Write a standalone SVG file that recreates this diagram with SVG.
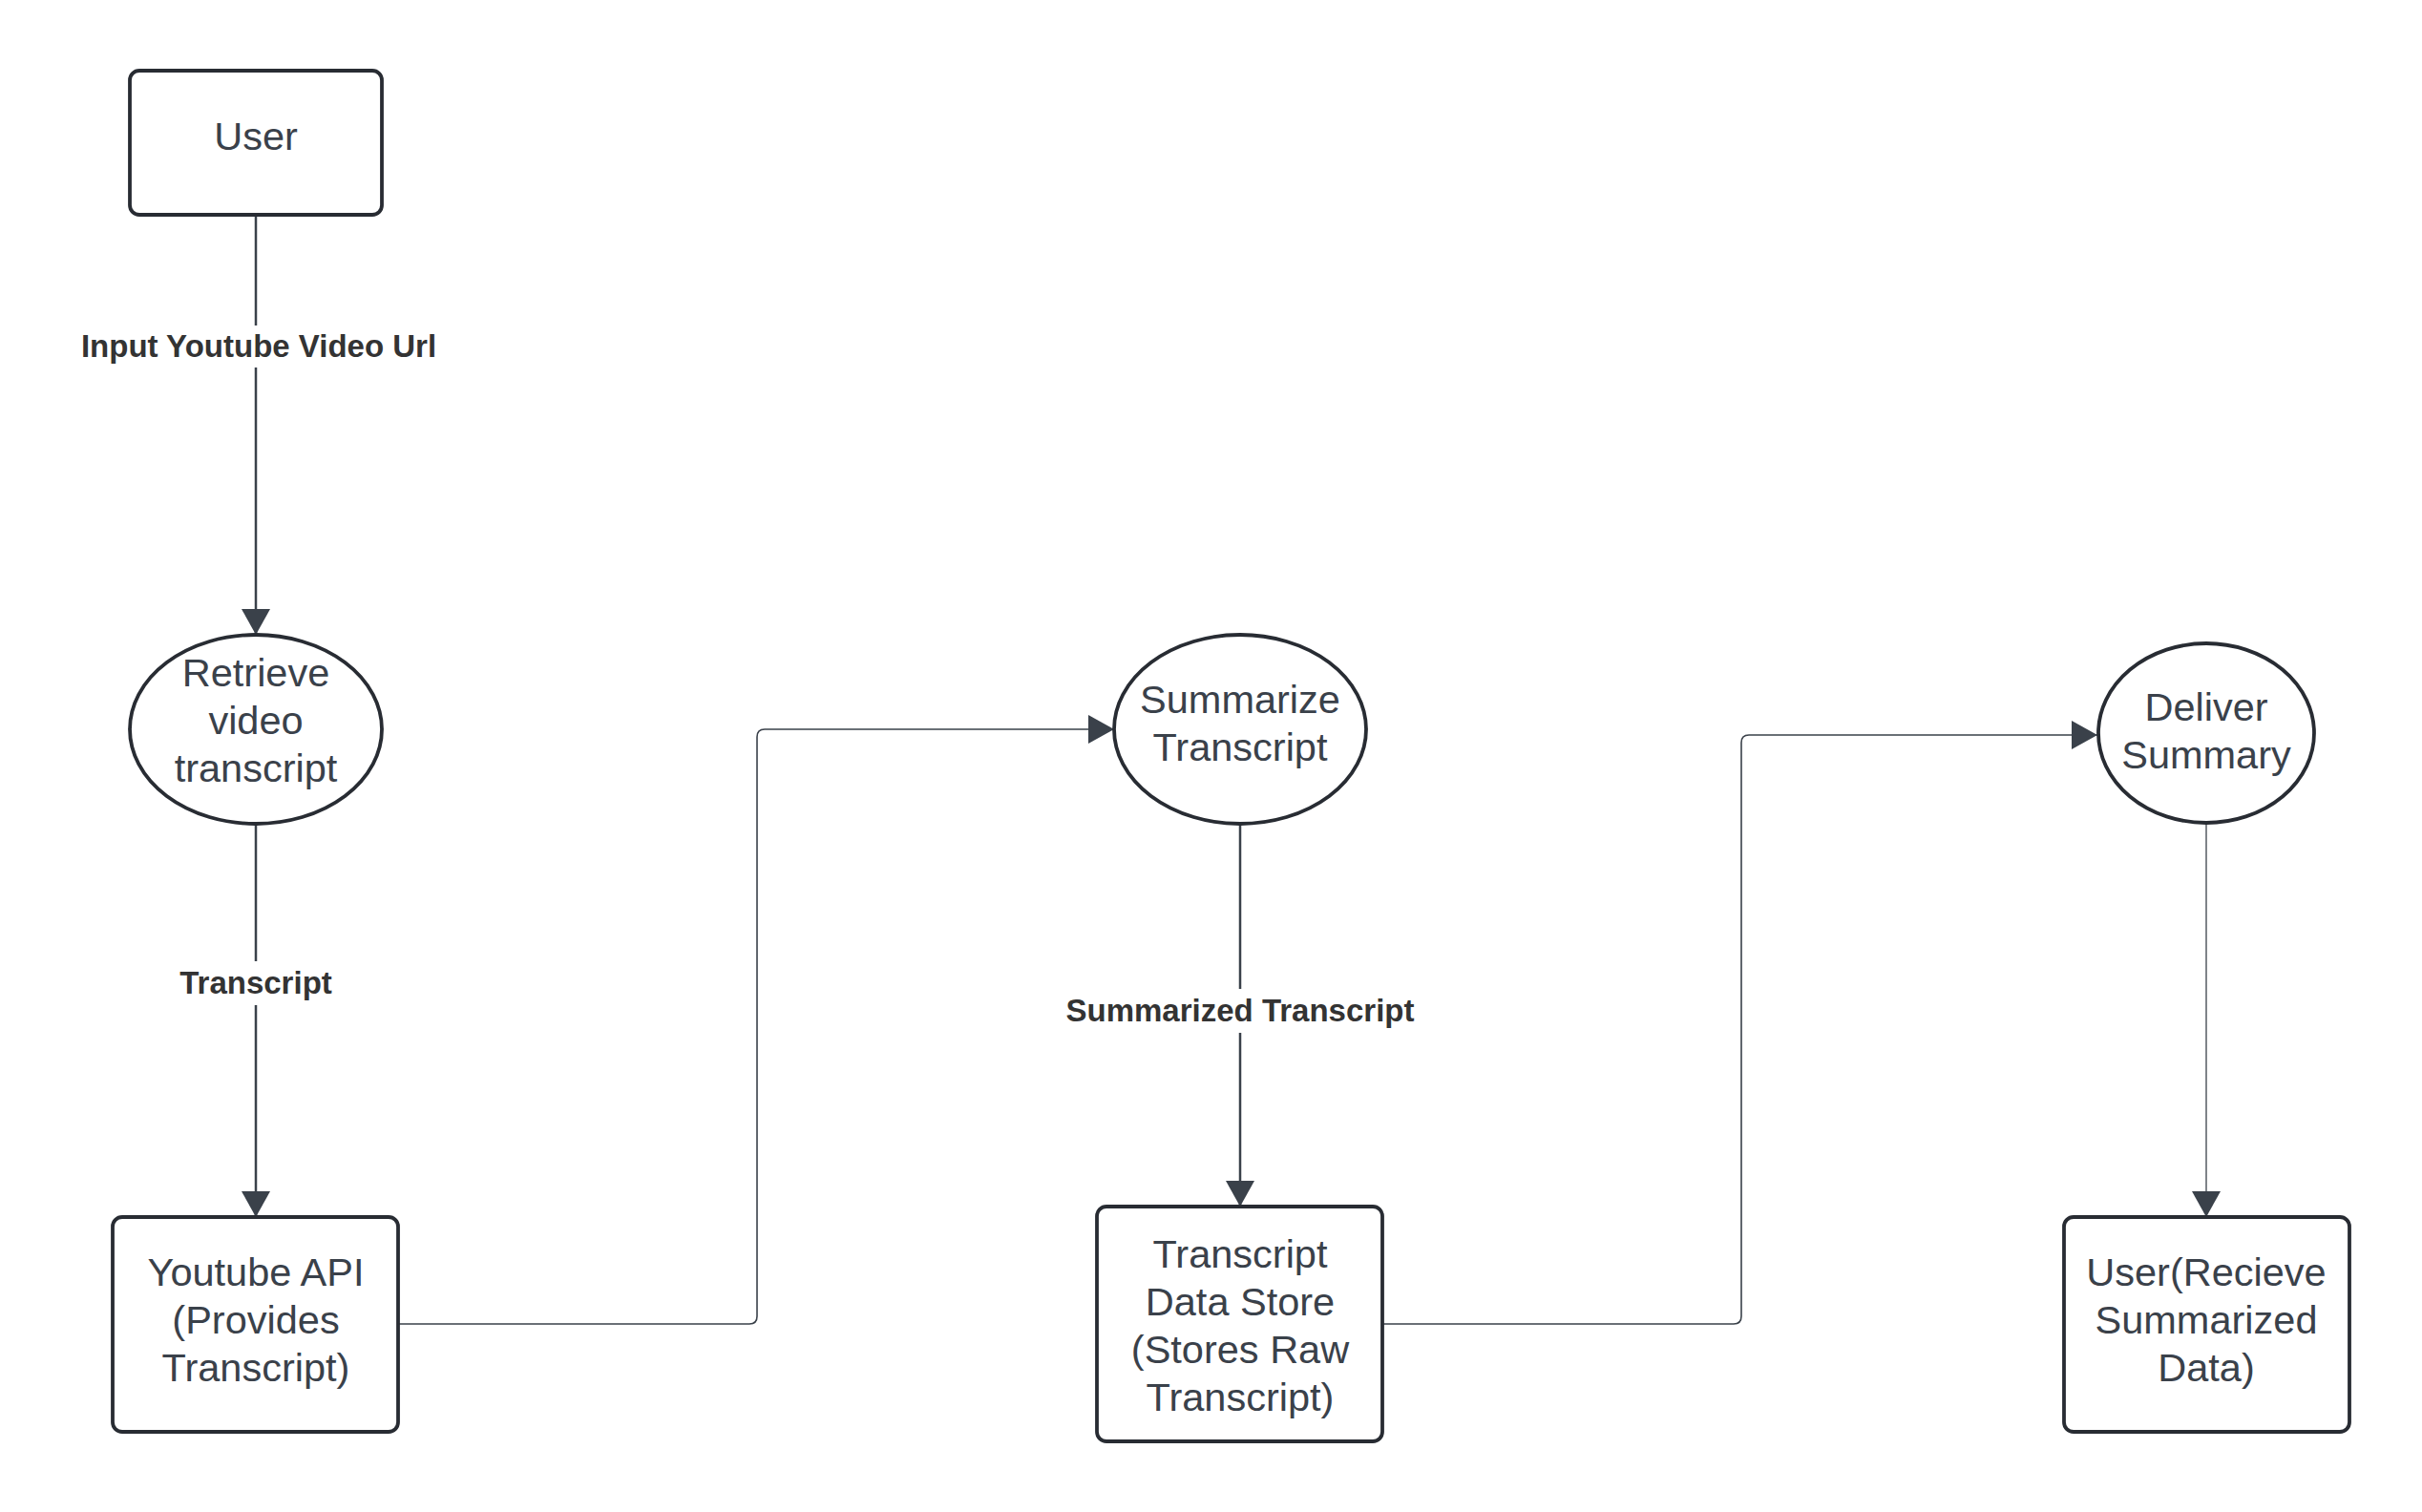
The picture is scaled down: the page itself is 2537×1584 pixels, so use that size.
<svg xmlns="http://www.w3.org/2000/svg" width="2537" height="1584" viewBox="0 0 2537 1584">
  <style>
    .box { fill: #ffffff; stroke: #282c33; stroke-width: 3.8; }
    .txt { font-family: "Liberation Sans", Arial, sans-serif; font-size: 41.5px; fill: #3a414a; text-anchor: middle; }
    .lbl { font-family: "Liberation Sans", Arial, sans-serif; font-size: 33px; font-weight: bold; fill: #333333; text-anchor: middle; }
    .conn { fill: none; stroke: #3a414a; }
    .thick { stroke-width: 2.5; }
    .thin { stroke-width: 1.6; }
    .lblbg { fill: #ffffff; }
  </style>
  <defs>
    <marker id="arrow" markerUnits="userSpaceOnUse" markerWidth="27" markerHeight="30" refX="27" refY="15" orient="auto">
      <path d="M0,0 L27,15 L0,30 z" fill="#3a414a"/>
    </marker>
  </defs>
  <rect width="2537" height="1584" fill="#ffffff"/>

  <g id="connectors">
    <path class="conn thick" d="M268,225 V665" marker-end="url(#arrow)"/>
    <rect class="lblbg" x="80" y="341" width="380" height="44"/>
    <text class="lbl" x="271" y="374">Input Youtube Video Url</text>

    <path class="conn thick" d="M268,862 V1275" marker-end="url(#arrow)"/>
    <rect class="lblbg" x="180" y="1007" width="176" height="46"/>
    <text class="lbl" x="268" y="1041">Transcript</text>

    <path class="conn thin" d="M417,1387 H785 Q793,1387 793,1379 V772 Q793,764 801,764 H1167" marker-end="url(#arrow)"/>

    <path class="conn thick" d="M1299,862 V1264" marker-end="url(#arrow)"/>
    <rect class="lblbg" x="1110" y="1036" width="378" height="46"/>
    <text class="lbl" x="1299" y="1070">Summarized Transcript</text>

    <path class="conn thin" d="M1448,1387 H1816 Q1824,1387 1824,1379 V778 Q1824,770 1832,770 H2197" marker-end="url(#arrow)"/>

    <path class="conn" stroke-width="1.3" d="M2311,862 V1275" marker-end="url(#arrow)"/>
  </g>

  <g id="user">
    <rect class="box" x="136" y="74" width="264" height="151" rx="10"/>
    <text class="txt" x="268" y="157">User</text>
  </g>

  <g id="retrieve">
    <ellipse class="box" cx="268" cy="764" rx="132" ry="99"/>
    <text class="txt" x="268" y="719">Retrieve</text>
    <text class="txt" x="268" y="769">video</text>
    <text class="txt" x="268" y="819">transcript</text>
  </g>

  <g id="youtube-api">
    <rect class="box" x="118" y="1275" width="299" height="225" rx="10"/>
    <text class="txt" x="268" y="1347">Youtube API</text>
    <text class="txt" x="268" y="1397">(Provides</text>
    <text class="txt" x="268" y="1447">Transcript)</text>
  </g>

  <g id="summarize">
    <ellipse class="box" cx="1299" cy="764" rx="132" ry="99"/>
    <text class="txt" x="1299" y="747">Summarize</text>
    <text class="txt" x="1299" y="797">Transcript</text>
  </g>

  <g id="data-store">
    <rect class="box" x="1149" y="1264" width="299" height="246" rx="10"/>
    <text class="txt" x="1299" y="1328">Transcript</text>
    <text class="txt" x="1299" y="1378">Data Store</text>
    <text class="txt" x="1299" y="1428">(Stores Raw</text>
    <text class="txt" x="1299" y="1478">Transcript)</text>
  </g>

  <g id="deliver">
    <ellipse class="box" cx="2311" cy="768" rx="113" ry="94"/>
    <text class="txt" x="2311" y="755">Deliver</text>
    <text class="txt" x="2311" y="805">Summary</text>
  </g>

  <g id="user-receive">
    <rect class="box" x="2162" y="1275" width="299" height="225" rx="10"/>
    <text class="txt" x="2311" y="1347">User(Recieve</text>
    <text class="txt" x="2311" y="1397">Summarized</text>
    <text class="txt" x="2311" y="1447">Data)</text>
  </g>
</svg>
